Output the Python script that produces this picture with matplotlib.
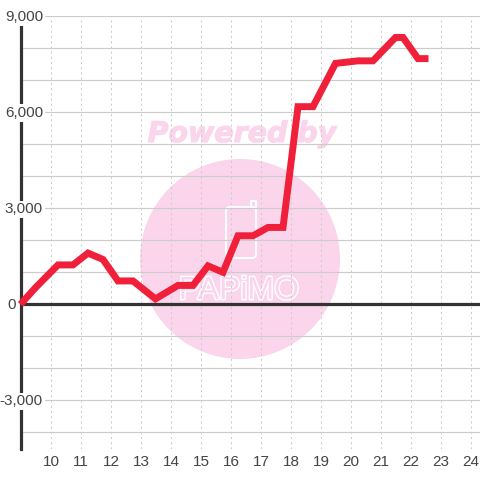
import matplotlib
matplotlib.use('Agg')
import matplotlib.pyplot as plt
import matplotlib.patheffects as pe
from matplotlib.patches import Circle, FancyBboxPatch
from matplotlib.transforms import IdentityTransform

horas = [9, 9.5, 10.25, 10.75, 11.25, 11.75, 12.25, 12.75, 13.5, 14.25, 14.75, 15.25, 15.75,
         16.25, 16.75, 17.25, 17.75, 18.25, 18.75, 19.5, 20.25, 20.75, 21.5, 21.75, 22.25, 22.6]
valores = [0, 520, 1230, 1230, 1600, 1400, 730, 730, 170, 590, 590, 1200, 1000,
           2140, 2140, 2400, 2400, 6170, 6170, 7520, 7600, 7600, 8330, 8330, 7670, 7670]
xticks = list(range(10, 25))
yticks = list(range(-4000, 10000, 1000))
ylabels = [9000, 6000, 3000, 0, -3000]

rosa = '#fbd5ec'
vermelho = '#f0203a'
cinza = '#444444'
escuro = '#333333'

plt.rcParams['font.family'] = ['Liberation Sans', 'DejaVu Sans']

fig = plt.figure(figsize=(4.8, 4.8), dpi=100)
ax = fig.add_axes([20.5 / 480, 31 / 480, 459.5 / 480, 433 / 480])
ax.set_xlim(9, 9 + 459.5 / 30)
ax.set_ylim(-4516, 9000)
ax.set_xticks(xticks)
ax.set_yticks(yticks)
ax.tick_params(length=0, labelleft=False, labelbottom=False)
ax.set_axisbelow(False)
ax.grid(True, axis='y', color='#cccccc', lw=0.85, zorder=2)
ax.grid(True, axis='x', color='#cccccc', lw=0.75, ls=(0, (2, 3)), zorder=2)

for lado in ['top', 'right', 'bottom']:
    ax.spines[lado].set_visible(False)
ax.spines['left'].set_color(escuro)
ax.spines['left'].set_linewidth(2.3)
ax.spines['left'].set_zorder(3)
ax.axhline(0, color=escuro, lw=2.3, zorder=3)


# marca d'agua, em pixels (y invertido como na imagem)
def px(x, y):
    return x, 480 - y


ident = IdentityTransform()
ax.add_patch(Circle(px(240, 259), 100, color=rosa, lw=0, transform=ident, zorder=0.5, clip_on=False))
ax.text(*px(242, 134), 'Powered by', transform=ident, family='DejaVu Sans', weight='bold', style='italic',
        fontsize=20.5, color=rosa, ha='center', va='center', zorder=0.6, clip_on=False,
        path_effects=[pe.withStroke(linewidth=0.8, foreground=rosa)])
ax.add_patch(FancyBboxPatch(px(230, 254), 22, 43, boxstyle='round,pad=4,rounding_size=4', fc='none', ec='white',
                            lw=1.4, transform=ident, zorder=0.7, clip_on=False))
ax.plot([251, 251, 256, 256], [480 - 207, 480 - 201, 480 - 201, 480 - 212], color='white', lw=1.4,
        solid_joinstyle='round', transform=ident, zorder=0.7, clip_on=False)
ax.text(*px(239, 291), 'PAPiMO', transform=ident, fontsize=23, color=rosa, ha='center', va='center',
        zorder=0.7, clip_on=False, path_effects=[pe.withStroke(linewidth=2, foreground='white')])

ax.plot(horas, valores, color=vermelho, lw=5, solid_joinstyle='miter', solid_capstyle='butt', zorder=4,
        clip_on=False)

for v in ylabels:
    xpx = -4.5 if v == 0 else 22.5
    t = ax.annotate(f'{v:,}', (9, v), xytext=(xpx * 0.72, -0.7), textcoords='offset points', ha='right',
                    va='center', fontsize=11, color=cinza, zorder=5, annotation_clip=False,
                    bbox=dict(fc='white', ec='none', pad=1.2))
    if v == 0:
        t.set_bbox(None)

for h in xticks:
    ax.annotate(str(h), (h, -4516), xytext=(0.3, -11.5 * 0.72 - 1), textcoords='offset points', ha='center',
                va='center', fontsize=11, color=cinza, annotation_clip=False)

fig.savefig('out.png', dpi=100)
